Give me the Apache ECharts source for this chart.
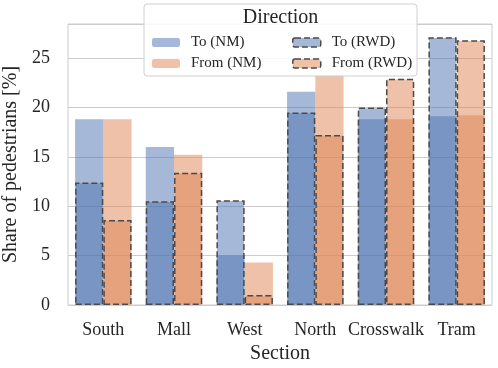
<!DOCTYPE html>
<html>
<head>
<meta charset="utf-8">
<script src="https://cdn.jsdelivr.net/npm/echarts@6/dist/echarts.min.js"></script>
<style>
  html, body { margin: 0; padding: 0; background: #fff; }
  #chart { width: 498px; height: 368px; }
</style>
</head>
<body>
<div id="chart"></div>
<script>
// data
const categories = ['South', 'Mall', 'West', 'North', 'Crosswalk', 'Tram'];
const toNM = [18.8, 16.0, 5.0, 21.6, 18.8, 19.1];
const fromNM = [18.8, 15.2, 4.3, 23.3, 18.8, 19.2];
const toRWD = [12.4, 10.5, 10.6, 19.5, 20.0, 27.1];
const fromRWD = [8.6, 13.4, 1.0, 17.2, 22.9, 26.8];
const yTicks = [0, 5, 10, 15, 20, 25];

const FONT = 'Liberation Serif';
const TEXT = '#262626';
const BLUE = 'rgba(76,114,176,0.5)';
const ORANGE = 'rgba(221,132,82,0.5)';
const EDGE = '#4a4a4a';
const DASH = [6, 3];

const chart = echarts.init(document.getElementById('chart'));

const catAxis = (show) => ({
  type: 'category',
  data: categories,
  show,
  axisLine: { show: false },
  axisTick: { show: false },
  axisLabel: { fontFamily: FONT, fontSize: 18, color: TEXT, margin: 16, interval: 0 },
  name: show ? 'Section' : '',
  nameLocation: 'middle',
  nameGap: 38,
  nameTextStyle: { fontFamily: FONT, fontSize: 20, color: TEXT },
});

const nmBar = (name, data, color) => ({
  name,
  type: 'bar',
  xAxisIndex: 0,
  data,
  barGap: '0%',
  barCategoryGap: '20%',
  itemStyle: { color },
  emphasis: { disabled: true },
  z: 2,
});

const rwdBar = (name, data, color) => ({
  name,
  type: 'bar',
  xAxisIndex: 1,
  data,
  barGap: '0%',
  barCategoryGap: '20%',
  itemStyle: { color, borderColor: EDGE, borderWidth: 1.5, borderType: DASH },
  emphasis: { disabled: true },
  z: 3,
});

const legendBase = {
  orient: 'vertical',
  top: 35,
  padding: 0,
  itemWidth: 28,
  itemHeight: 9,
  itemGap: 6,
  selectedMode: false,
  z: 110,
  textStyle: { fontFamily: FONT, fontSize: 15, color: TEXT, padding: [0, 0, 0, 6] },
};

const option = {
  animation: false,
  backgroundColor: '#fff',
  grid: {
    left: 68, right: 6, top: 24, bottom: 63,
    outerBoundsMode: 'none',
    containLabel: false,
    show: true, borderColor: '#cccccc', borderWidth: 1,
  },
  xAxis: [catAxis(true), catAxis(false)],
  yAxis: {
    type: 'value',
    min: 0,
    max: 28.45,
    interval: 5,
    axisLine: { show: false },
    axisTick: { show: false },
    splitLine: { lineStyle: { color: '#cccccc', width: 1 } },
    axisLabel: {
      fontFamily: FONT, fontSize: 18, color: TEXT, margin: 18,
      formatter: (v) => (yTicks.includes(v) ? String(v) : ''),
    },
    name: 'Share of pedestrians [%]',
    nameLocation: 'middle',
    nameGap: 42,
    nameTextStyle: { fontFamily: FONT, fontSize: 20, color: TEXT },
  },
  legend: [
    Object.assign({}, legendBase, {
      left: 152,
      data: [
        { name: 'To (NM)', itemStyle: { color: BLUE, borderWidth: 0 } },
        { name: 'From (NM)', itemStyle: { color: ORANGE, borderWidth: 0 } },
      ],
    }),
    Object.assign({}, legendBase, {
      left: 292,
      data: [
        { name: 'To (RWD)', itemStyle: { color: BLUE, borderColor: EDGE, borderWidth: 1.5, borderType: DASH } },
        { name: 'From (RWD)', itemStyle: { color: ORANGE, borderColor: EDGE, borderWidth: 1.5, borderType: DASH } },
      ],
    }),
  ],
  graphic: [
    {
      type: 'rect',
      z: 100,
      shape: { x: 144, y: 4, width: 273, height: 72, r: 3 },
      style: { fill: 'rgba(255,255,255,0.85)', stroke: '#d0d0d0', lineWidth: 1 },
    },
    {
      type: 'text',
      z: 110,
      x: 280.5,
      y: 18,
      style: {
        text: 'Direction',
        font: '20px "Liberation Serif"',
        fill: TEXT,
        align: 'center',
        verticalAlign: 'middle',
      },
    },
  ],
  series: [
    nmBar('To (NM)', toNM, BLUE),
    nmBar('From (NM)', fromNM, ORANGE),
    rwdBar('To (RWD)', toRWD, BLUE),
    rwdBar('From (RWD)', fromRWD, ORANGE),
  ],
};

chart.setOption(option);
</script>
</body>
</html>
